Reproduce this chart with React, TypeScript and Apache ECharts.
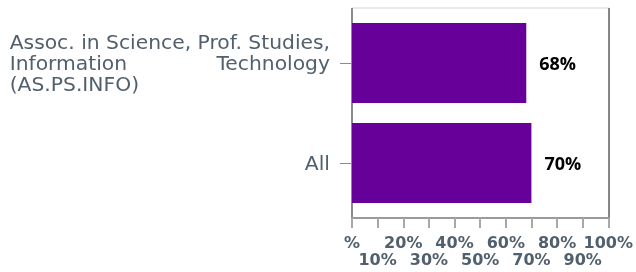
import React, { useEffect, useRef } from "react";
import * as echarts from "echarts";

const categories = ["All", "Assoc. in Science, Prof. Studies, Information Technology (AS.PS.INFO)"];
const values = [70, 68];
const tickLabels = ["%", "10%", "20%", "30%", "40%", "50%", "60%", "70%", "80%", "90%", "100%"];

export default function App() {
  const ref = useRef<HTMLDivElement>(null);
  useEffect(() => {
    if (!ref.current) return;
    const chart = echarts.init(ref.current, null, { renderer: "svg" });
    const labelColor = "#52606d";
    const xLabelBase = {
      color: labelColor,
      fontFamily: "DejaVu Sans",
      fontWeight: "bold",
      fontSize: 16,
      lineHeight: 17,
      hideOverlap: false,
      showMinLabel: true,
      showMaxLabel: true,
    };
    chart.setOption({
      animation: false,
      grid: { left: 352, right: 27, top: 13, bottom: 59, containLabel: false },
      xAxis: [
        {
          type: "value",
          min: 0,
          max: 100,
          interval: 10,
          offset: 5,
          position: "bottom",
          splitLine: { show: false },
          axisLine: { show: true, lineStyle: { color: "#9a9a9a", width: 2 } },
          axisTick: { show: true, length: 10, lineStyle: { color: "#a8a8a8", width: 2 } },
          axisLabel: {
            ...xLabelBase,
            margin: 16,
            formatter: (v: number) => {
              const i = Math.round(v / 10);
              return i % 2 === 0 ? tickLabels[i] ?? "" : "";
            },
          },
        },
        {
          type: "value",
          min: 0,
          max: 100,
          interval: 10,
          offset: 5,
          position: "bottom",
          splitLine: { show: false },
          axisLine: { show: false },
          axisTick: { show: false },
          axisLabel: {
            ...xLabelBase,
            margin: 33,
            formatter: (v: number) => {
              const i = Math.round(v / 10);
              return i % 2 === 1 ? tickLabels[i] ?? "" : "";
            },
          },
        },
      ],
      yAxis: {
        type: "category",
        data: categories,
        axisLine: { show: false },
        axisTick: { show: true, alignWithLabel: true, length: 12, lineStyle: { color: "#8c8c8c", width: 1 } },
        axisLabel: {
          margin: 22,
          color: labelColor,
          fontFamily: "DejaVu Sans",
          fontSize: 20.3,
          lineHeight: 21,
          formatter: (v: string) => {
            if (v.startsWith("Assoc.")) {
              return "{l|Assoc. in Science, Prof. Studies,}\n{l|Information}{r|Technology}\n{l|(AS.PS.INFO)}";
            }
            return v;
          },
          rich: {
            l: { align: "left", color: labelColor, fontFamily: "DejaVu Sans", fontSize: 20.3, lineHeight: 21 },
            r: { align: "right", color: labelColor, fontFamily: "DejaVu Sans", fontSize: 20.3, lineHeight: 21 },
          },
        },
      },
      graphic: [
        { type: "line", shape: { x1: 352, y1: 8, x2: 609, y2: 8 }, style: { stroke: "#d4d4d4", lineWidth: 1 } },
        { type: "line", shape: { x1: 609, y1: 8, x2: 609, y2: 218 }, style: { stroke: "#858585", lineWidth: 2 } },
        { type: "line", shape: { x1: 352, y1: 8, x2: 352, y2: 218 }, style: { stroke: "#8c8c8c", lineWidth: 2 } },
      ],
      series: [
        {
          type: "bar",
          data: values,
          barWidth: 80,
          itemStyle: { color: "#660099" },
          label: {
            show: true,
            position: "right",
            distance: 13,
            color: "#000000",
            fontFamily: "Open Sans",
            fontWeight: 700,
            fontSize: 18,
            formatter: (p: any) => p.value + "%",
          },
        },
      ],
    });
    return () => chart.dispose();
  }, []);
  return <div ref={ref} style={{ position: "fixed", left: 0, top: 0, width: 636, height: 272 }} />;
}
